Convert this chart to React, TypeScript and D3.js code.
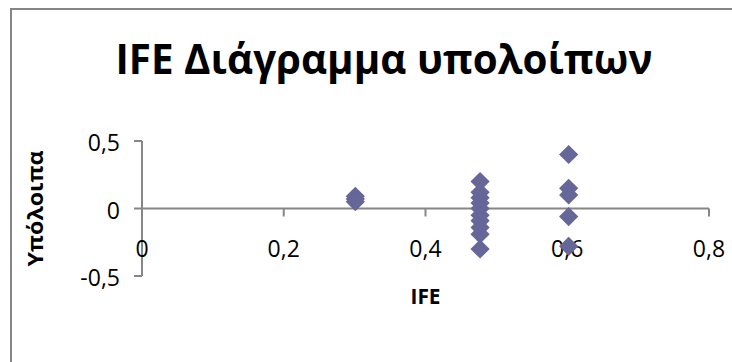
import React from "react";
import * as d3 from "d3";

const chartTitle = "IFE Διάγραμμα υπολοίπων";
const xAxisTitle = "IFE";
const yAxisTitle = "Υπόλοιπα";

const ifeValues = [
  0.301, 0.301, 0.301,
  0.477, 0.477, 0.477, 0.477, 0.477, 0.477, 0.477, 0.477, 0.477, 0.477,
  0.602, 0.602, 0.602, 0.602, 0.602,
];
const residualValues = [
  0.09, 0.07, 0.05,
  0.2, 0.12, 0.08, 0.04, 0.0, -0.05, -0.09, -0.14, -0.19, -0.3,
  0.4, 0.15, 0.1, -0.06, -0.28,
];
const xTicks = [0, 0.2, 0.4, 0.6, 0.8];
const yTicks = [-0.5, 0, 0.5];

const fmt = (v: number) => String(v).replace(".", ",");

export default function App() {
  const W = 732, H = 362;
  const x = d3.scaleLinear().domain([0, 0.8]).range([142, 709]);
  const y = d3.scaleLinear().domain([-0.5, 0.5]).range([276, 141]);
  const axisColor = "#868686";
  const font = "'Open Sans', 'Noto Sans', sans-serif";
  const diamond = d3.symbol().type(d3.symbolSquare).size(185)();
  const y0 = y(0);

  return (
    <svg width={W} height={H} style={{ position: "absolute", left: 0, top: 0, background: "#fff" }}>
      <rect x={11} y={9} width={900} height={600} fill="#fff" stroke={axisColor} strokeWidth={2} />
      <text x={384} y={74} textAnchor="middle" fontFamily={font} fontWeight="bold" fontSize={42}
        textLength={537} lengthAdjust="spacingAndGlyphs" fill="#000">
        {chartTitle}
      </text>
      {/* y axis */}
      <line x1={x(0)} x2={x(0)} y1={y(0.5)} y2={y(-0.5)} stroke={axisColor} strokeWidth={2} />
      {yTicks.map((t) => (
        <g key={"yt" + t}>
          <line x1={x(0) - 8} x2={x(0)} y1={y(t)} y2={y(t)} stroke={axisColor} strokeWidth={2} />
          <text x={120} y={y(t) + 2} dy="0.35em" textAnchor="end" fontFamily={font} fontSize={23} fill="#000">
            {fmt(t)}
          </text>
        </g>
      ))}
      {/* x axis */}
      <line x1={x(0)} x2={x(0.8)} y1={y0} y2={y0} stroke={axisColor} strokeWidth={2} />
      {xTicks.map((t) => (
        <g key={"xt" + t}>
          <line x1={x(t)} x2={x(t)} y1={y0} y2={y0 + 8} stroke={axisColor} strokeWidth={2} />
          <text x={x(t)} y={249} dy="0.35em" textAnchor="middle" fontFamily={font} fontSize={23} fill="#000">
            {fmt(t)}
          </text>
        </g>
      ))}
      <text x={(x(0) + x(0.8)) / 2} y={297} dy="0.35em" textAnchor="middle" fontFamily={font} fontWeight="bold" fontSize={21}
        textLength={30} lengthAdjust="spacingAndGlyphs" fill="#000">
        {xAxisTitle}
      </text>
      <text
        transform={`translate(43,${y0}) rotate(-90)`}
        textAnchor="middle"
        fontFamily={font}
        fontWeight="bold"
        fontSize={22}
        textLength={116}
        lengthAdjust="spacingAndGlyphs"
        fill="#000"
      >
        {yAxisTitle}
      </text>
      {ifeValues.map((v, i) => (
        <path
          key={"p" + i}
          d={diamond as string}
          transform={`translate(${x(v)},${y(residualValues[i])}) rotate(45)`}
          fill="#666699"
        />
      ))}
    </svg>
  );
}
